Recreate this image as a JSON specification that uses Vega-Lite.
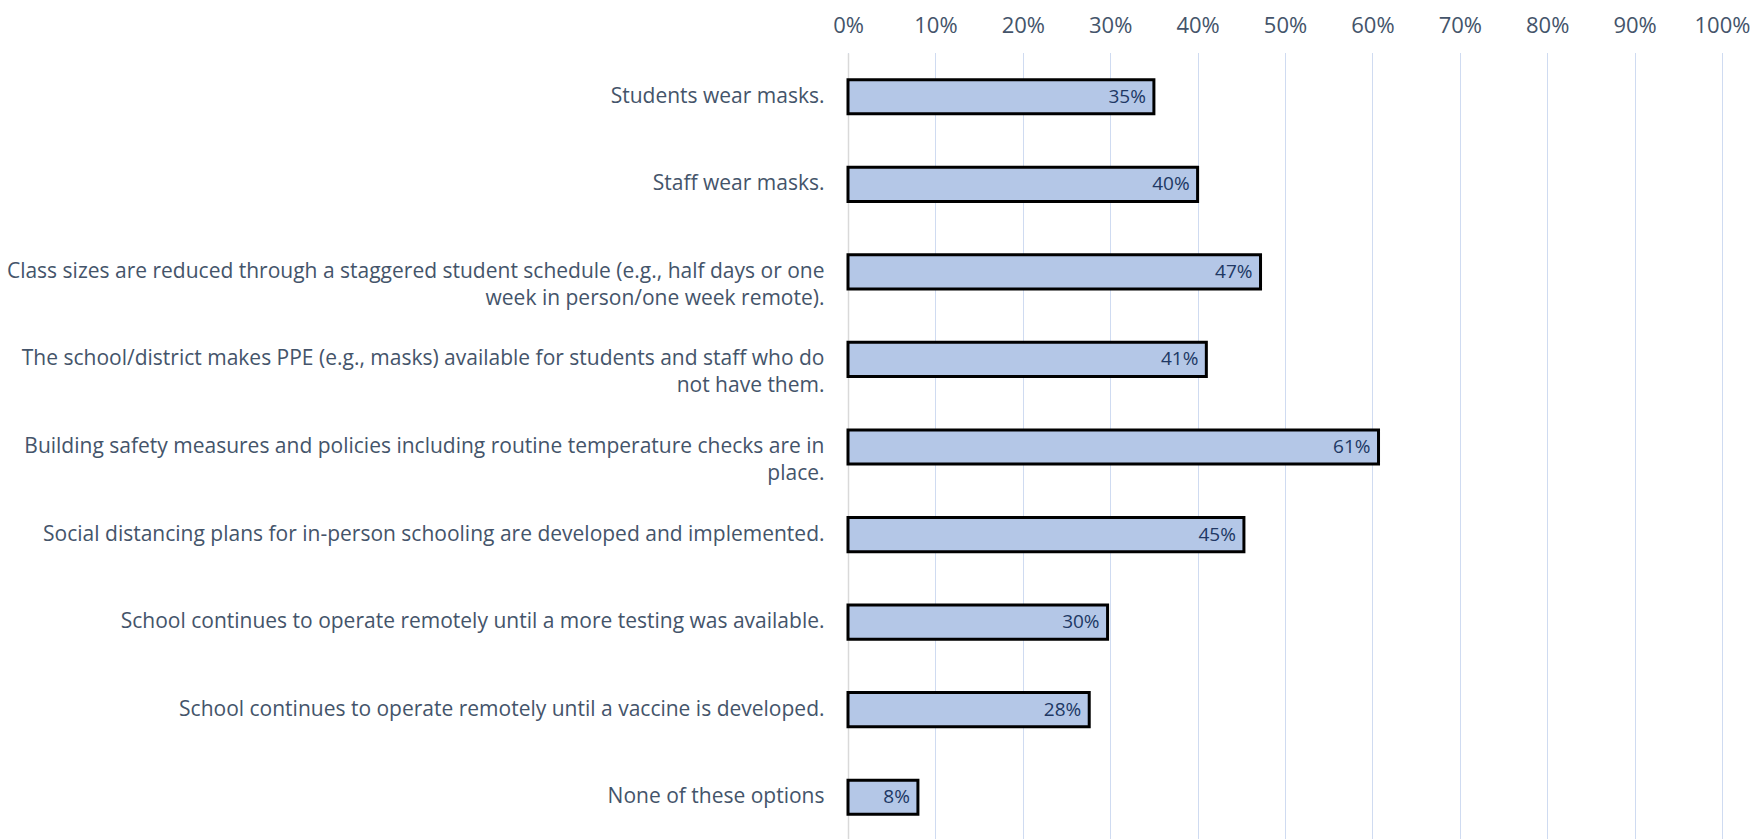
{
  "$schema": "https://vega.github.io/schema/vega-lite/v6.json",
  "autosize": {"type": "none"},
  "padding": {"left": 848, "top": 53, "right": 40, "bottom": 0},
  "width": 874,
  "height": 788,
  "background": "white",
  "config": {"view": {"stroke": null}},
  "data": {
    "values": [
      {"measure": "Students wear masks.", "share": 0.35},
      {"measure": "Staff wear masks.", "share": 0.40},
      {"measure": "Class sizes are reduced through a staggered student schedule (e.g., half days or one|week in person/one week remote).", "share": 0.472},
      {"measure": "The school/district makes PPE (e.g., masks) available for students and staff who do|not have them.", "share": 0.41},
      {"measure": "Building safety measures and policies including routine temperature checks are in|place.", "share": 0.607},
      {"measure": "Social distancing plans for in-person schooling are developed and implemented.", "share": 0.453},
      {"measure": "School continues to operate remotely until a more testing was available.", "share": 0.297},
      {"measure": "School continues to operate remotely until a vaccine is developed.", "share": 0.276},
      {"measure": "None of these options", "share": 0.08}
    ]
  },
  "encoding": {
    "y": {
      "field": "measure",
      "type": "nominal",
      "sort": null,
      "scale": {"paddingInner": 0.61, "paddingOuter": 0.305},
      "axis": {
        "title": null,
        "ticks": false,
        "domain": true,
        "domainColor": "#d9d9d9",
        "domainWidth": 1.5,
        "labelExpr": "split(datum.value, '|')",
        "labelFont": "Open Sans",
        "labelFontSize": 21,
        "labelColor": "#44546a",
        "labelPadding": 24,
        "labelLimit": 900,
        "labelLineHeight": 27,
        "labelAlign": "right",
        "labelBaseline": "middle"
      }
    },
    "x": {
      "field": "share",
      "type": "quantitative",
      "scale": {"domain": [0, 1], "nice": false},
      "axis": {
        "orient": "top",
        "title": null,
        "format": ".0%",
        "values": [0, 0.1, 0.2, 0.3, 0.4, 0.5, 0.6, 0.7, 0.8, 0.9, 1],
        "ticks": false,
        "domain": false,
        "grid": true,
        "gridColor": "#9fb7e2",
        "gridDash": [1, 1],
        "gridWidth": 1,
        "labelFont": "Open Sans",
        "labelFontSize": 22,
        "labelColor": "#44546a",
        "labelPadding": 16,
        "labelFlush": false
      }
    }
  },
  "layer": [
    {
      "mark": {"type": "bar", "fill": "#b4c7e7", "stroke": "#000000", "strokeWidth": 3}
    },
    {
      "mark": {"type": "text", "align": "right", "baseline": "middle", "dx": -8, "font": "Open Sans", "fontSize": 19, "color": "#203864"},
      "encoding": {
        "text": {"field": "share", "type": "quantitative", "format": ".0%"}
      }
    }
  ]
}
